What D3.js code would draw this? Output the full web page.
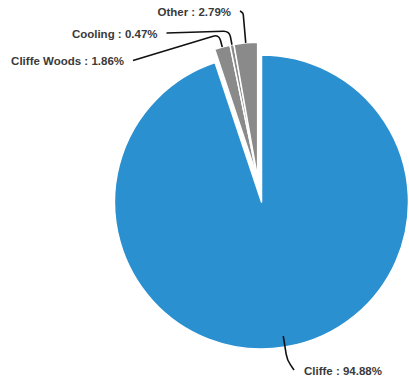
<!DOCTYPE html>
<html><head><meta charset="utf-8">
<script src="https://cdn.jsdelivr.net/npm/d3@7"></script>
<style>html,body{margin:0;padding:0;background:#fff;}svg{display:block;}</style>
</head><body>
<svg id="c" width="409" height="382"></svg>
<script>
// ---- data ----
const categories = ["Cliffe", "Cliffe Woods", "Cooling", "Other"];
const values = [94.88, 1.86, 0.47, 2.79];
const pulledOut = [false, true, true, true];

// ---- layout ----
const cx = 261.5, cy = 202;
const rFull = 147, rPulled = 136, pullDist = 24;
const colors = ["#2b90d0", "#8a8a8a", "#8a8a8a", "#8a8a8a"];
// connector ends (label anchors) and elbow distances beyond slice edge
const labelEnds = [[294, 370], [133, 60.5], [166.5, 33], [240, 11]];
const elbowLen = [24, 13, 14, 30];

const svg = d3.select("#c");
const pie = d3.pie().sort(null).value(d => d.v);
const data = categories.map((c, i) => ({c, v: values[i], pulled: pulledOut[i], i}));
const arcsData = pie(data);

// group offset for pulled slices along their combined bisector
const pulledArcs = arcsData.filter(a => a.data.pulled);
const gStart = d3.min(pulledArcs, a => a.startAngle), gEnd = d3.max(pulledArcs, a => a.endAngle);
const gMid = (gStart + gEnd) / 2;
const off = [pullDist * Math.sin(gMid), -pullDist * Math.cos(gMid)];

const arcFull = d3.arc().innerRadius(0).outerRadius(rFull);
const arcPulled = d3.arc().innerRadius(0).outerRadius(rPulled);

const g = svg.append("g").attr("transform", `translate(${cx},${cy})`);
g.selectAll("path.slice").data(arcsData).join("path")
  .attr("class", "slice")
  .attr("d", d => d.data.pulled ? arcPulled(d) : arcFull(d))
  .attr("transform", d => d.data.pulled ? `translate(${off[0]},${off[1]})` : null)
  .attr("fill", (d, i) => colors[i])
  .attr("stroke", "#fff").attr("stroke-width", 1.5).attr("stroke-linejoin", "round");

// connectors
arcsData.forEach((d, i) => {
  const mid = (d.startAngle + d.endAngle) / 2;
  const ux = Math.sin(mid), uy = -Math.cos(mid);
  const o = d.data.pulled ? off : [0, 0];
  const S = [cx + o[0] + rPulled * ux, cy + o[1] + rPulled * uy];
  const P = [S[0] + elbowLen[i] * ux, S[1] + elbowLen[i] * uy];
  const E = labelEnds[i];
  const dSP = Math.hypot(P[0] - S[0], P[1] - S[1]);
  const dPE = Math.hypot(E[0] - P[0], E[1] - P[1]);
  const k = Math.min(6, dSP * 0.5, dPE * 0.5);
  const A = [P[0] - k * (P[0] - S[0]) / dSP, P[1] - k * (P[1] - S[1]) / dSP];
  const B = [P[0] + k * (E[0] - P[0]) / dPE, P[1] + k * (E[1] - P[1]) / dPE];
  const path = d3.path();
  path.moveTo(S[0], S[1]); path.lineTo(A[0], A[1]);
  path.quadraticCurveTo(P[0], P[1], B[0], B[1]); path.lineTo(E[0], E[1]);
  svg.append("path").attr("d", path.toString()).attr("fill", "none")
    .attr("stroke", "#111").attr("stroke-width", 1.6);
  const right = E[0] > P[0];
  svg.append("text")
    .attr("x", E[0] + (right ? 10 : -9)).attr("y", E[1] + 4.5)
    .attr("text-anchor", right ? "start" : "end")
    .attr("font-family", "Liberation Sans, Arial, sans-serif")
    .attr("font-size", 11.5).attr("font-weight", "bold").attr("fill", "#3a3a3a")
    .text(`${d.data.c} : ${d3.format(".2f")(d.data.v)}%`);
});
</script>
</body></html>
